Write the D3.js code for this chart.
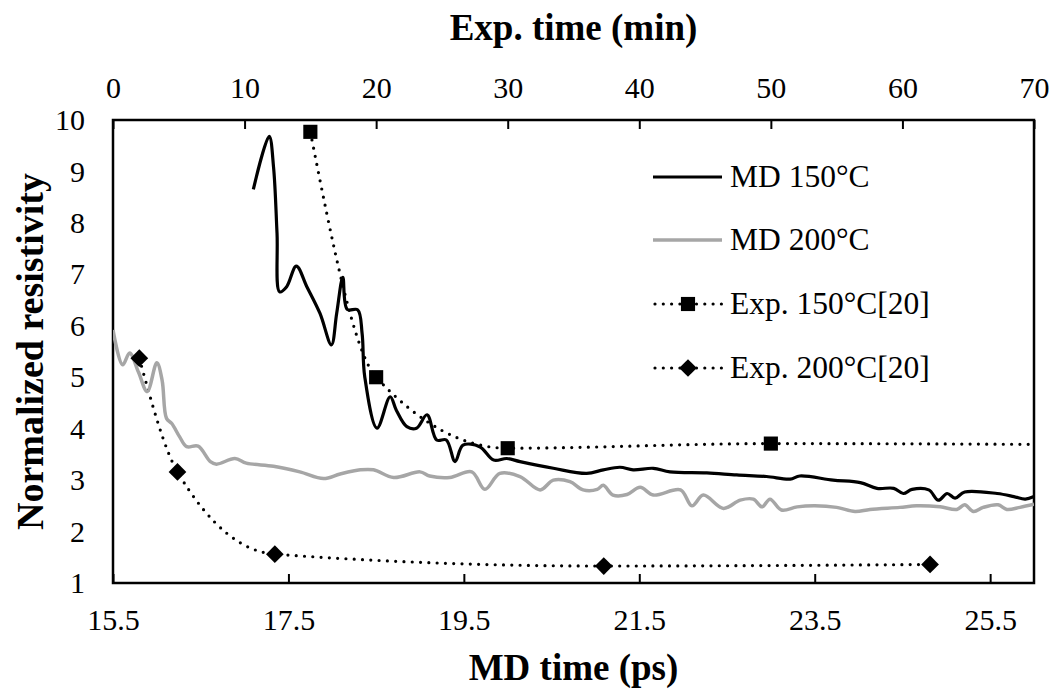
<!DOCTYPE html>
<html>
<head>
<meta charset="utf-8">
<script src="https://cdn.jsdelivr.net/npm/d3@7"></script>
<style>
  body { margin: 0; background: #fff; }
  svg { font-family: "Liberation Serif", "Times New Roman", serif; }
</style>
</head>
<body>
<svg id="chart" width="1056" height="694"></svg>
<script>
// MD simulation curves: [MD time (ps), normalized resistivity]
let md150 = [[17.10,8.65],[17.28,9.68],[17.33,9.09],[17.37,7.80],[17.40,6.66],[17.48,6.76],[17.59,7.16],
  [17.71,6.76],[17.86,6.24],[17.99,5.63],[18.05,6.24],[18.12,6.94],[18.17,6.32],[18.29,6.31],[18.34,5.85],
  [18.37,5.01],[18.51,4.01],[18.66,4.62],[18.73,4.36],[18.85,4.04],[18.96,4.01],[19.08,4.27],[19.19,3.78],
  [19.30,3.78],[19.40,3.36],[19.49,3.68],[19.68,3.65],[19.84,3.39],[19.99,3.42],[20.14,3.36],[20.52,3.23],
  [20.90,3.13],[21.09,3.20],[21.28,3.25],[21.43,3.20],[21.66,3.23],[21.85,3.16],[22.27,3.14],[22.61,3.10],
  [22.95,3.07],[23.22,3.02],[23.33,3.08],[23.71,3.00],[24.02,2.95],[24.21,2.84],[24.40,2.84],[24.51,2.74],
  [24.61,2.82],[24.80,2.81],[24.91,2.61],[25.01,2.74],[25.10,2.65],[25.21,2.77],[25.58,2.74],[25.77,2.68],
  [25.90,2.63],[26.00,2.68]];

let md200 = [[15.50,5.92],[15.61,5.24],[15.69,5.47],[15.79,5.10],[15.89,4.72],[16.00,5.28],[16.06,4.94],
  [16.11,4.20],[16.17,4.10],[16.26,3.84],[16.34,3.65],[16.47,3.66],[16.61,3.36],[16.68,3.31],[16.89,3.42],
  [17.02,3.33],[17.33,3.27],[17.63,3.16],[17.90,3.03],[18.09,3.12],[18.32,3.20],[18.47,3.20],[18.70,3.05],
  [19.00,3.16],[19.11,3.08],[19.34,3.05],[19.59,3.16],[19.74,2.82],[19.91,3.13],[20.14,3.07],[20.37,2.81],
  [20.52,3.00],[20.71,2.97],[20.86,2.81],[21.02,2.82],[21.09,2.90],[21.20,2.71],[21.36,2.72],[21.51,2.86],
  [21.66,2.71],[21.97,2.81],[22.10,2.50],[22.23,2.71],[22.46,2.45],[22.65,2.61],[22.80,2.63],[22.90,2.48],
  [22.99,2.63],[23.12,2.42],[23.30,2.48],[23.50,2.50],[23.75,2.47],[23.96,2.39],[24.13,2.43],[24.47,2.47],
  [24.66,2.50],[24.93,2.48],[25.12,2.43],[25.21,2.52],[25.31,2.39],[25.42,2.47],[25.59,2.52],[25.69,2.43],
  [25.84,2.47],[26.00,2.53]];

// experiment: [Exp. time (min), normalized resistivity]
let exp150 = [[15,9.77],[20,5.0],[30,3.62],[50,3.71],[90,3.66]];
let exp200 = [[2,5.37],[4.9,3.16],[12.3,1.56],[37.3,1.33],[62.1,1.36]];

let mdTicks = [15.5, 17.5, 19.5, 21.5, 23.5, 25.5],
    expTicks = [0, 10, 20, 30, 40, 50, 60, 70],
    yTicks = [1, 2, 3, 4, 5, 6, 7, 8, 9, 10];

let legendLabels = ["MD 150°C", "MD 200°C", "Exp. 150°C[20]", "Exp. 200°C[20]"];

let width = 1056,
    height = 694,
    margins = {top: 120, bottom: 111, left: 113, right: 22},
    gray = "#a6a6a6";

let svg = d3.select("#chart");

let scales = {
  x: d3.scaleLinear().domain([15.5, 26]).range([margins.left, width - margins.right]),
  xTop: d3.scaleLinear().domain([0, 70]).range([margins.left, width - margins.right]),
  y: d3.scaleLinear().domain([1, 10]).range([height - margins.bottom, margins.top])
};

svg.append("clipPath").attr("id", "plot-clip")
  .append("rect")
  .attr("x", margins.left).attr("y", margins.top)
  .attr("width", width - margins.left - margins.right)
  .attr("height", height - margins.top - margins.bottom);

// axes
let x_axis_g = svg.append("g")
  .attr("transform", `translate(0,${height - margins.bottom})`)
  .call(d3.axisBottom(scales.x).tickValues(mdTicks).tickFormat(d3.format(".1f"))
    .tickSizeInner(-9).tickSizeOuter(0).tickPadding(26));

let x2_axis_g = svg.append("g")
  .attr("transform", `translate(0,${margins.top})`)
  .call(d3.axisTop(scales.xTop).tickValues(expTicks).tickFormat(d3.format("d"))
    .tickSizeInner(-9).tickSizeOuter(0).tickPadding(22));

let y_axis_g = svg.append("g")
  .attr("transform", `translate(${margins.left},0)`)
  .call(d3.axisLeft(scales.y).tickValues(yTicks).tickSize(0).tickPadding(28));

[x_axis_g, x2_axis_g, y_axis_g].forEach(g => {
  g.select(".domain").remove();
  g.selectAll("line").attr("stroke", "#000").attr("stroke-width", 2);
  g.selectAll("text").attr("font-size", 30).attr("fill", "#000")
    .attr("font-family", '"Liberation Serif", "Times New Roman", serif');
});

svg.append("rect")
  .attr("x", margins.left).attr("y", margins.top)
  .attr("width", width - margins.left - margins.right)
  .attr("height", height - margins.top - margins.bottom)
  .attr("fill", "none").attr("stroke", "#000").attr("stroke-width", 2.5);

// axis titles
let plotMidX = (margins.left + width - margins.right) / 2,
    plotMidY = (margins.top + height - margins.bottom) / 2;

svg.append("text")
  .attr("x", plotMidX).attr("y", 680)
  .attr("text-anchor", "middle").attr("font-size", 37).attr("font-weight", "bold")
  .text("MD time (ps)");

svg.append("text")
  .attr("x", plotMidX).attr("y", 40)
  .attr("text-anchor", "middle").attr("font-size", 37).attr("font-weight", "bold")
  .text("Exp. time (min)");

svg.append("text")
  .attr("transform", `translate(43,${plotMidY}) rotate(-90)`)
  .attr("text-anchor", "middle").attr("font-size", 38).attr("font-weight", "bold")
  .text("Normalized resistivity");

// lines
let mdLine = d3.line()
  .x(d => scales.x(d[0]))
  .y(d => scales.y(d[1]))
  .curve(d3.curveCatmullRom.alpha(0.5));

let expLine = d3.line()
  .x(d => scales.xTop(d[0]))
  .y(d => scales.y(d[1]))
  .curve(d3.curveMonotoneX);

let plot = svg.append("g").attr("clip-path", "url(#plot-clip)");

plot.append("path")
  .attr("d", expLine(exp150))
  .attr("fill", "none").attr("stroke", "#000").attr("stroke-width", 3.2)
  .attr("stroke-linecap", "round").attr("stroke-dasharray", "0 8.3");

plot.append("path")
  .attr("d", expLine(exp200))
  .attr("fill", "none").attr("stroke", "#000").attr("stroke-width", 3.2)
  .attr("stroke-linecap", "round").attr("stroke-dasharray", "0 8.3");

plot.append("path")
  .attr("d", mdLine(md200))
  .attr("fill", "none").attr("stroke", gray).attr("stroke-width", 3.5)
  .attr("stroke-linejoin", "round");

plot.append("path")
  .attr("d", mdLine(md150))
  .attr("fill", "none").attr("stroke", "#000").attr("stroke-width", 3.2)
  .attr("stroke-linejoin", "round");

// markers
let square = d3.symbol().type(d3.symbolSquare).size(200),
    diamond = d3.symbol().type(d3.symbolDiamond2).size(200);

svg.append("g").selectAll("path")
  .data(exp150.filter(d => d[0] <= 70)).enter()
  .append("path")
  .attr("d", square)
  .attr("transform", d => `translate(${scales.xTop(d[0])},${scales.y(d[1])})`)
  .attr("fill", "#000");

svg.append("g").selectAll("path")
  .data(exp200).enter()
  .append("path")
  .attr("d", diamond)
  .attr("transform", d => `translate(${scales.xTop(d[0])},${scales.y(d[1])})`)
  .attr("fill", "#000");

// legend
let legendRows = [177, 240, 304, 368],
    legend = svg.append("g");

legendLabels.forEach((label, i) => {
  let yy = legendRows[i];
  let row = legend.append("g");
  if (i < 2) {
    row.append("line")
      .attr("x1", 653).attr("x2", 722).attr("y1", yy).attr("y2", yy)
      .attr("stroke", i == 0 ? "#000" : gray).attr("stroke-width", i == 0 ? 3.2 : 3.5);
  } else {
    row.append("line")
      .attr("x1", 655).attr("x2", 722).attr("y1", yy).attr("y2", yy)
      .attr("stroke", "#000").attr("stroke-width", 3.2)
      .attr("stroke-linecap", "round").attr("stroke-dasharray", "0 8.3");
    row.append("path")
      .attr("d", i == 2 ? square : diamond)
      .attr("transform", `translate(688,${yy})`)
      .attr("fill", "#000");
  }
  row.append("text")
    .attr("x", 730).attr("y", yy + 10)
    .attr("font-size", 31.5)
    .text(label);
});
</script>
</body>
</html>
